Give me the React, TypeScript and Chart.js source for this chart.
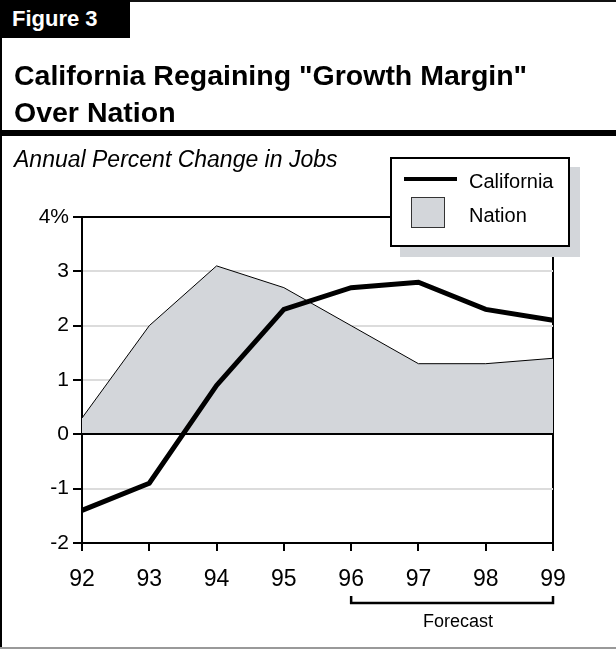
import React, { useEffect, useRef } from 'react';
import { Chart, registerables } from 'chart.js';

Chart.register(...registerables);

// ---- Data ----
const YEARS = ['92', '93', '94', '95', '96', '97', '98', '99'];
const CALIFORNIA = [-1.4, -0.9, 0.9, 2.3, 2.7, 2.8, 2.3, 2.1];
const NATION = [0.3, 2.0, 3.1, 2.7, 2.0, 1.3, 1.3, 1.4];
const Y_TICKS = [-2, -1, 0, 1, 2, 3, 4];
const Y_TICK_LABELS = ['-2', '-1', '0', '1', '2', '3', '4%'];
const FORECAST_RANGE = ['96', '99'];

const FONT = '"Liberation Sans", Arial, Helvetica, sans-serif';
const FILL = '#d3d6da';

const overlayPlugin = {
  id: 'overlay',
  afterDatasetDraw(chart: any, args: any) {
    if (args.index !== 1) return;
    const { ctx, chartArea, scales } = chart;
    const py = Math.round(scales.y.getPixelForValue(0));
    ctx.save();
    ctx.strokeStyle = '#000';
    ctx.lineWidth = 2;
    ctx.beginPath();
    ctx.moveTo(chartArea.left, py);
    ctx.lineTo(chartArea.right, py);
    ctx.stroke();
    ctx.restore();
  },
  afterDraw(chart: any) {
    const { ctx, chartArea, scales } = chart;
    const x0 = scales.x.getPixelForValue(YEARS.indexOf(FORECAST_RANGE[0]));
    const x1 = scales.x.getPixelForValue(YEARS.indexOf(FORECAST_RANGE[1]));
    const y = chartArea.bottom + 60;
    ctx.save();
    ctx.strokeStyle = '#000';
    ctx.lineWidth = 2.5;
    ctx.lineCap = 'butt';
    ctx.beginPath();
    ctx.moveTo(x0, y - 7);
    ctx.lineTo(x0, y);
    ctx.lineTo(x1, y);
    ctx.lineTo(x1, y - 7);
    ctx.stroke();
    ctx.restore();
  },
};

function JobsChart() {
  const ref = useRef<HTMLCanvasElement | null>(null);
  useEffect(() => {
    if (!ref.current) return;
    const chart = new Chart(ref.current, {
      type: 'line',
      data: {
        labels: YEARS,
        datasets: [
          {
            label: 'California',
            data: CALIFORNIA,
            borderColor: '#000',
            borderWidth: 5,
            pointRadius: 0,
            fill: false,
            tension: 0,
            order: 0,
            borderJoinStyle: 'miter',
          },
          {
            label: 'Nation',
            data: NATION,
            borderColor: '#000',
            borderWidth: 1,
            backgroundColor: FILL,
            pointRadius: 0,
            fill: 'origin',
            tension: 0,
            order: 1,
          },
        ],
      },
      options: {
        animation: false,
        responsive: false,
        devicePixelRatio: 1,
        layout: { padding: { top: 217, right: 63, bottom: 0, left: 0 } },
        plugins: { legend: { display: false }, tooltip: { enabled: false } },
        scales: {
          x: {
            type: 'category',
            offset: false,
            afterFit: (s: any) => { s.height = 649 - 543; },
            grid: {
              color: (c: any) => (c.index === YEARS.length - 1 ? '#000' : 'rgba(0,0,0,0)'),
              tickColor: '#000',
              lineWidth: 2,
              tickLength: 8,
              drawOnChartArea: true,
            },
            border: { display: true, color: '#000', width: 2 },
            ticks: {
              color: '#000',
              font: { family: FONT, size: 23 },
              padding: 15,
              maxRotation: 0,
              autoSkip: false,
            },
          },
          y: {
            min: Y_TICKS[0],
            max: Y_TICKS[Y_TICKS.length - 1],
            afterFit: (s: any) => { s.width = 82; },
            afterBuildTicks: (s: any) => { s.ticks = Y_TICKS.map((v) => ({ value: v })); },
            grid: {
              color: (c: any) => {
                const v = c.tick ? c.tick.value : null;
                if (v === Y_TICKS[Y_TICKS.length - 1]) return '#000';
                if (v === 0 || v === Y_TICKS[0]) return 'rgba(0,0,0,0)';
                return '#dcdcdc';
              },
              tickColor: '#000',
              lineWidth: 2,
              tickLength: 9,
            },
            border: { display: true, color: '#000', width: 2 },
            ticks: {
              color: '#000',
              font: { family: FONT, size: 21 },
              padding: 4,
              callback: (_v: any, i: number) => Y_TICK_LABELS[i],
            },
          },
        },
      },
      plugins: [overlayPlugin],
    } as any);
    return () => chart.destroy();
  }, []);
  return (
    <canvas
      ref={ref}
      width={616}
      height={649}
      style={{ position: 'absolute', left: 0, top: 0, width: 616, height: 649, display: 'block' }}
    />
  );
}

export default function App() {
  const abs = (o: any) => ({ position: 'absolute' as const, ...o });
  return (
    <div
      style={{
        position: 'absolute',
        left: 0,
        top: 0,
        width: 616,
        height: 649,
        background: '#fff',
        overflow: 'hidden',
        fontFamily: FONT,
        color: '#000',
      }}
    >
      <JobsChart />
      {/* frame */}
      <div style={abs({ left: 0, top: 0, width: 616, height: 2, background: '#111' })} />
      <div style={abs({ left: 0, top: 0, width: 2, height: 649, background: '#000' })} />
      <div style={abs({ left: 0, top: 647, width: 616, height: 2, background: '#999' })} />
      {/* Figure tag */}
      <div style={abs({ left: 0, top: 0, width: 130, height: 38, background: '#000' })} />
      <div
        style={abs({ left: 12, top: 8, fontSize: 22, lineHeight: '22px', fontWeight: 'bold', color: '#fff', whiteSpace: 'nowrap' })}
      >
        Figure 3
      </div>
      {/* Title */}
      <div
        style={abs({ left: 14, top: 57, fontSize: 28.5, lineHeight: '37px', fontWeight: 'bold', whiteSpace: 'nowrap' })}
      >
        California Regaining "Growth Margin"
        <br />
        Over Nation
      </div>
      <div style={abs({ left: 0, top: 130, width: 616, height: 6, background: '#000' })} />
      <div style={abs({ left: 14, top: 148, fontSize: 23, lineHeight: '23px', fontStyle: 'italic', whiteSpace: 'nowrap' })}>
        Annual Percent Change in Jobs
      </div>
      {/* Legend */}
      <div
        style={abs({
          left: 390,
          top: 157,
          width: 180,
          height: 90,
          boxSizing: 'border-box',
          border: '2px solid #000',
          background: '#fff',
          boxShadow: `10px 10px 0 ${FILL}`,
        })}
      >
        <div style={abs({ left: 12, top: 18, width: 53, height: 4, background: '#000' })} />
        <div style={abs({ left: 77, top: 12, fontSize: 20, lineHeight: '20px', whiteSpace: 'nowrap' })}>California</div>
        <div
          style={abs({ left: 19, top: 38, width: 34, height: 31, boxSizing: 'border-box', background: FILL, border: '1px solid #333' })}
        />
        <div style={abs({ left: 77, top: 46, fontSize: 20, lineHeight: '20px', whiteSpace: 'nowrap' })}>Nation</div>
      </div>
      {/* Forecast label */}
      <div style={abs({ left: 358, top: 612, width: 200, textAlign: 'center', fontSize: 18, lineHeight: '18px', whiteSpace: 'nowrap' })}>
        Forecast
      </div>
    </div>
  );
}
